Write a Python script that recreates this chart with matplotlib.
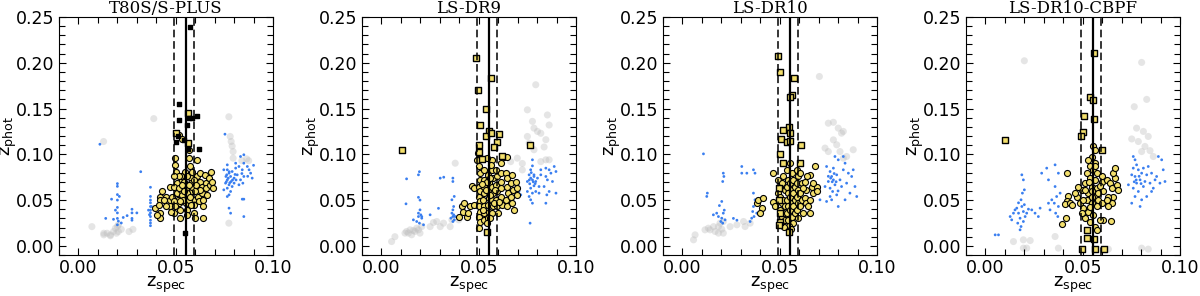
import matplotlib
matplotlib.use("Agg")
import matplotlib.pyplot as plt
from matplotlib.ticker import MultipleLocator

# --- data: (z_spec, z_phot) pairs ---
titles = ["T80S/S-PLUS", "LS-DR9", "LS-DR10", "LS-DR10-CBPF"]

z_cluster = 0.0552
z_lo, z_hi = 0.0489, 0.0592

t80_grey = [(0.0069, 0.021), (0.013, 0.012), (0.0147, 0.0138), (0.0164, 0.012), (0.018, 0.0156),
            (0.019, 0.0193), (0.020, 0.0211), (0.0205, 0.023), (0.0195, 0.0138), (0.0164, 0.011),
            (0.0205, 0.0156), (0.026, 0.0156), (0.013, 0.0138), (0.0387, 0.139), (0.0129, 0.114),
            (0.0773, 0.141), (0.078, 0.1195), (0.0785, 0.114), (0.079, 0.109), (0.0795, 0.103),
            (0.0865, 0.095), (0.0875, 0.093), (0.0773, 0.0248), (0.0795, 0.0958), (0.084, 0.093),
            (0.022, 0.018), (0.028, 0.018)]
t80_blue = [(0.011, 0.111), (0.020, 0.068), (0.020, 0.065), (0.020, 0.056), (0.020, 0.050), (0.020, 0.042),
            (0.020, 0.036), (0.020, 0.030), (0.020, 0.023), (0.017, 0.051), (0.014, 0.030), (0.021, 0.054),
            (0.023, 0.031), (0.019, 0.039), (0.0205, 0.027), (0.0275, 0.040), (0.0275, 0.036), (0.0275, 0.030),
            (0.0275, 0.028), (0.030, 0.036), (0.032, 0.081), (0.037, 0.064), (0.037, 0.054), (0.037, 0.050),
            (0.037, 0.047), (0.037, 0.043), (0.037, 0.039), (0.037, 0.036), (0.037, 0.032), (0.037, 0.028),
            (0.037, 0.025), (0.037, 0.022), (0.036, 0.039), (0.0375, 0.043), (0.0365, 0.034), (0.025, 0.033),
            (0.018, 0.029), (0.022, 0.025),
            (0.0753, 0.122), (0.0765, 0.0885), (0.0765, 0.0831), (0.0774, 0.0794), (0.0782, 0.0758),
            (0.0765, 0.0721), (0.0756, 0.0685), (0.0774, 0.0667), (0.0785, 0.0703), (0.080, 0.074),
            (0.0762, 0.0776), (0.079, 0.0812), (0.0747, 0.0612), (0.0765, 0.063), (0.0782, 0.0594),
            (0.0774, 0.0557), (0.079, 0.0648), (0.0808, 0.0903), (0.0825, 0.0867), (0.0842, 0.0831),
            (0.085, 0.0995), (0.0833, 0.0976), (0.085, 0.0903), (0.0868, 0.0867), (0.0877, 0.0831),
            (0.0893, 0.074), (0.085, 0.0758), (0.0833, 0.0721), (0.0816, 0.0776), (0.080, 0.0685),
            (0.0842, 0.051), (0.085, 0.051), (0.0774, 0.0412), (0.0782, 0.0357), (0.085, 0.032),
            (0.0765, 0.0539), (0.0808, 0.0849), (0.0825, 0.0667), (0.0845, 0.0685), (0.0885, 0.0794),
            (0.0747, 0.0831), (0.0770, 0.0740), (0.0758, 0.0758), (0.0778, 0.0690), (0.0792, 0.0720),
            (0.0760, 0.0700), (0.0775, 0.0810), (0.0805, 0.0780), (0.0810, 0.0720), (0.0840, 0.0790),
            (0.0870, 0.0760), (0.0900, 0.0880)]
t80_members = [(0.0421, 0.0539), (0.0421, 0.0503), (0.0421, 0.0357), (0.0421, 0.030), (0.0395, 0.0412),
               (0.0412, 0.0448), (0.0452, 0.0532), (0.0469, 0.0648), (0.0473, 0.0503), (0.0473, 0.043),
               (0.0498, 0.0958), (0.0498, 0.0885), (0.0503, 0.0812), (0.0507, 0.0685), (0.0507, 0.0576),
               (0.051, 0.0503), (0.0515, 0.0466), (0.049, 0.0357), (0.0524, 0.0393), (0.0524, 0.030),
               (0.0527, 0.0612), (0.0533, 0.0721), (0.0541, 0.0776), (0.0545, 0.0648), (0.055, 0.0539),
               (0.0555, 0.0466), (0.0558, 0.0393), (0.0558, 0.0339), (0.0567, 0.105), (0.0567, 0.0958),
               (0.0572, 0.0867), (0.0576, 0.074), (0.0579, 0.0685), (0.0584, 0.0594), (0.0589, 0.0503),
               (0.0593, 0.0448), (0.0593, 0.0357), (0.0601, 0.030), (0.0607, 0.094), (0.061, 0.0758),
               (0.061, 0.063), (0.0613, 0.0539), (0.0619, 0.0485), (0.0627, 0.0794), (0.0627, 0.0703),
               (0.0636, 0.0648), (0.0636, 0.0576), (0.0641, 0.043), (0.0641, 0.030), (0.0648, 0.0776),
               (0.0653, 0.0685), (0.0658, 0.063), (0.0662, 0.0557), (0.067, 0.074), (0.0675, 0.0667),
               (0.0682, 0.0812), (0.0687, 0.0703), (0.0692, 0.063), (0.0481, 0.0539), (0.049, 0.0648),
               (0.0493, 0.0485), (0.0515, 0.063), (0.0533, 0.0557), (0.0538, 0.0503), (0.0545, 0.0703),
               (0.0553, 0.0612), (0.0567, 0.0503), (0.0576, 0.0448), (0.0584, 0.0648), (0.0596, 0.0721),
               (0.0624, 0.0612), (0.0641, 0.0503), (0.055, 0.0812), (0.0527, 0.0758), (0.0558, 0.0758),
               (0.0581, 0.0812), (0.0515, 0.0758), (0.049, 0.0758), (0.0452, 0.043), (0.0478, 0.0375),
               (0.0498, 0.043), (0.0524, 0.0485), (0.043, 0.0594), (0.0442, 0.0503), (0.0404, 0.0339),
               (0.0558, 0.0576), (0.0545, 0.0594), (0.0572, 0.0539), (0.0533, 0.0667), (0.0567, 0.0667),
               (0.0598, 0.0594), (0.0605, 0.0667), (0.0515, 0.121), (0.053, 0.117)]
t80_outliers = [(0.0564, 0.145), (0.0503, 0.123), (0.0564, 0.112)]
t80_black = [(0.0515, 0.155), (0.0567, 0.1395), (0.0584, 0.1395), (0.0607, 0.142), (0.0558, 0.132),
             (0.0515, 0.138), (0.051, 0.1195), (0.0502, 0.114), (0.0545, 0.116), (0.0564, 0.1057),
             (0.0619, 0.1057), (0.055, 0.0138), (0.0573, 0.239)]

dr9_grey = [(0.0793, 0.176), (0.075, 0.1486), (0.0853, 0.143), (0.0862, 0.132), (0.0776, 0.136),
            (0.0784, 0.1286), (0.0802, 0.125), (0.0819, 0.123), (0.0845, 0.116), (0.075, 0.1195),
            (0.0759, 0.1122), (0.0836, 0.108), (0.0784, 0.105), (0.0845, 0.094), (0.0862, 0.094),
            (0.0819, 0.092), (0.0698, 0.0958), (0.0664, 0.092), (0.0724, 0.083), (0.0724, 0.090),
            (0.0379, 0.0903), (0.0052, 0.0047), (0.0069, 0.010), (0.0129, 0.0157), (0.0147, 0.0175),
            (0.0164, 0.0168), (0.0181, 0.0193), (0.019, 0.0175), (0.0207, 0.0211), (0.0198, 0.0139),
            (0.0155, 0.0121), (0.0121, 0.0139), (0.0138, 0.0139), (0.0172, 0.0157), (0.025, 0.021),
            (0.0267, 0.0255), (0.0319, 0.0248), (0.0353, 0.021), (0.0284, 0.0266), (0.0397, 0.0284),
            (0.0302, 0.021), (0.0362, 0.0284)]
dr9_blue = [(0.0129, 0.0732), (0.019, 0.0776), (0.0195, 0.081), (0.0126, 0.0459), (0.019, 0.053),
            (0.0198, 0.050), (0.0198, 0.0393), (0.0202, 0.0339), (0.019, 0.032), (0.0207, 0.0302),
            (0.0195, 0.0248), (0.0181, 0.0266), (0.0207, 0.0320), (0.0164, 0.0284), (0.0216, 0.0230),
            (0.019, 0.0357), (0.025, 0.0339), (0.0293, 0.041), (0.0302, 0.074), (0.032, 0.075),
            (0.0367, 0.074), (0.0367, 0.0703), (0.0374, 0.054), (0.0362, 0.0503), (0.0371, 0.043),
            (0.0367, 0.0393), (0.0362, 0.0357), (0.0371, 0.0339), (0.0379, 0.032), (0.0357, 0.0302),
            (0.0374, 0.0284), (0.0367, 0.0266), (0.0367, 0.032),
            (0.0776, 0.094), (0.0776, 0.0874), (0.0767, 0.0831), (0.0759, 0.0776), (0.0784, 0.0758),
            (0.0767, 0.074), (0.0776, 0.0721), (0.0793, 0.0703), (0.075, 0.0703), (0.0762, 0.0678),
            (0.0784, 0.0656), (0.0802, 0.074), (0.0819, 0.0776), (0.081, 0.0648), (0.0767, 0.063),
            (0.075, 0.0594), (0.0776, 0.0576), (0.0793, 0.0594), (0.0759, 0.0539), (0.0767, 0.0503),
            (0.0776, 0.0466), (0.0819, 0.0831), (0.0845, 0.0849), (0.0862, 0.0831), (0.0871, 0.0794),
            (0.0888, 0.0867), (0.0897, 0.0812), (0.0845, 0.0758), (0.0853, 0.0721), (0.0879, 0.0703),
            (0.0836, 0.0648), (0.0862, 0.0594), (0.085, 0.0557), (0.0845, 0.0466), (0.0897, 0.0576),
            (0.0764, 0.0248), (0.0707, 0.0594), (0.0716, 0.0557), (0.081, 0.0576), (0.0784, 0.0776),
            (0.0770, 0.0800), (0.0780, 0.0700), (0.0760, 0.0720), (0.0790, 0.0680)]
dr9_members = [(0.0397, 0.032), (0.0414, 0.043), (0.0422, 0.0466), (0.0419, 0.0375), (0.044, 0.032),
               (0.0443, 0.0357), (0.0457, 0.043), (0.0474, 0.0448), (0.0466, 0.0656), (0.0474, 0.063),
               (0.0491, 0.094), (0.05, 0.0867), (0.05, 0.1104), (0.0495, 0.1013), (0.0505, 0.0794),
               (0.0509, 0.0721), (0.05, 0.0648), (0.0509, 0.0594), (0.05, 0.0539), (0.0509, 0.0485),
               (0.05, 0.043), (0.0509, 0.0375), (0.05, 0.032), (0.0509, 0.0266), (0.0526, 0.0831),
               (0.0526, 0.0721), (0.0529, 0.0648), (0.0526, 0.0576), (0.0522, 0.0503), (0.0529, 0.043),
               (0.0526, 0.0357), (0.0529, 0.0284), (0.0547, 0.0776), (0.0552, 0.0685), (0.0547, 0.0594),
               (0.0552, 0.0521), (0.0547, 0.0448), (0.0552, 0.0375), (0.0547, 0.0302), (0.0569, 0.094),
               (0.0569, 0.0831), (0.0574, 0.074), (0.0569, 0.0648), (0.0574, 0.0576), (0.0569, 0.0503),
               (0.0574, 0.043), (0.0569, 0.0357), (0.0591, 0.0831), (0.0595, 0.0758), (0.0591, 0.0667),
               (0.0595, 0.0594), (0.0591, 0.0503), (0.0595, 0.043), (0.0598, 0.0357), (0.0612, 0.0903),
               (0.0616, 0.0794), (0.0612, 0.0703), (0.0616, 0.063), (0.0612, 0.0539), (0.0621, 0.0448),
               (0.0638, 0.0801), (0.0647, 0.074), (0.0643, 0.0648), (0.065, 0.0576), (0.0638, 0.0503),
               (0.0647, 0.043), (0.0672, 0.0776), (0.0667, 0.0685), (0.0678, 0.0612), (0.0664, 0.0539),
               (0.0672, 0.0466), (0.0681, 0.0393), (0.069, 0.0703), (0.0695, 0.063), (0.0698, 0.0557),
               (0.0629, 0.0976), (0.0647, 0.0976), (0.0535, 0.0612), (0.0558, 0.0558), (0.0540, 0.0700),
               (0.0580, 0.0470), (0.0515, 0.0680), (0.0560, 0.0740), (0.0585, 0.0610), (0.0605, 0.0480),
               (0.0520, 0.0390), (0.0560, 0.0300), (0.0540, 0.0250), (0.0500, 0.0200), (0.0565, 0.0880),
               (0.0545, 0.0960)]
dr9_outliers = [(0.0487, 0.2049), (0.0561, 0.183), (0.0497, 0.170), (0.0535, 0.149), (0.0509, 0.132),
                (0.0555, 0.125), (0.0535, 0.12), (0.0606, 0.1217), (0.0592, 0.113), (0.050, 0.110),
                (0.0105, 0.105), (0.0764, 0.1105), (0.0617, 0.0985), (0.0503, 0.102), (0.0515, 0.095),
                (0.0544, 0.0155), (0.0565, 0.1235), (0.0580, 0.1085)]

dr10_grey = [(0.0704, 0.185), (0.075, 0.134), (0.0776, 0.135), (0.0801, 0.1286), (0.0827, 0.1250),
             (0.0818, 0.1231), (0.0776, 0.1158), (0.0793, 0.1104), (0.0733, 0.1068), (0.075, 0.103),
             (0.0827, 0.0958), (0.0878, 0.105), (0.0844, 0.0976), (0.0810, 0.1030), (0.0057, 0.0066),
             (0.0065, 0.012), (0.0116, 0.0175), (0.0142, 0.0175), (0.016, 0.021), (0.0185, 0.021),
             (0.0193, 0.0248), (0.0202, 0.0182), (0.0210, 0.0139), (0.0168, 0.0157), (0.0133, 0.0193),
             (0.0185, 0.0139), (0.0210, 0.0266), (0.0245, 0.021), (0.028, 0.023), (0.0314, 0.0266),
             (0.0348, 0.0248), (0.0322, 0.0211)]
dr10_blue = [(0.0108, 0.1005), (0.021, 0.0794), (0.0213, 0.0758), (0.0207, 0.0703), (0.0128, 0.0576),
             (0.0125, 0.054), (0.0202, 0.0485), (0.021, 0.0357), (0.0202, 0.0302), (0.0197, 0.0266),
             (0.0207, 0.0248), (0.0185, 0.0320), (0.0219, 0.0284), (0.0159, 0.0339), (0.0176, 0.0357),
             (0.0262, 0.030), (0.028, 0.028), (0.0305, 0.0867), (0.0305, 0.0794), (0.0331, 0.0794),
             (0.0365, 0.0831), (0.0373, 0.0794), (0.0365, 0.0576), (0.0373, 0.0503), (0.0365, 0.043),
             (0.0361, 0.0375), (0.0368, 0.032), (0.0356, 0.0302), (0.0348, 0.0266), (0.0382, 0.0357),
             (0.0378, 0.0460), (0.0215, 0.0390), (0.0190, 0.0440),
             (0.0741, 0.0867), (0.0759, 0.0812), (0.0767, 0.0758), (0.0776, 0.0721), (0.075, 0.0703),
             (0.0784, 0.0667), (0.0759, 0.063), (0.0772, 0.0594), (0.0793, 0.0557), (0.0767, 0.0503),
             (0.0741, 0.0485), (0.0801, 0.043), (0.0707, 0.0503), (0.0776, 0.0849), (0.0801, 0.094),
             (0.0827, 0.0976), (0.0836, 0.0903), (0.0853, 0.0794), (0.087, 0.0758), (0.0878, 0.0831),
             (0.0887, 0.0648), (0.0844, 0.0685), (0.0861, 0.0576), (0.0896, 0.0539), (0.081, 0.0721),
             (0.0818, 0.0648), (0.0827, 0.0831), (0.0793, 0.0776), (0.0759, 0.0539), (0.0733, 0.0648),
             (0.0784, 0.0976), (0.0836, 0.0503), (0.0770, 0.0700), (0.0762, 0.0740), (0.0790, 0.0700),
             (0.0780, 0.0790), (0.0750, 0.0760), (0.0800, 0.0600)]
dr10_members = [(0.0382, 0.0466), (0.039, 0.0503), (0.0408, 0.0412), (0.0399, 0.0357), (0.0416, 0.0521),
                (0.0464, 0.0794), (0.0467, 0.0474), (0.0476, 0.043), (0.0493, 0.0576), (0.0502, 0.0648),
                (0.0493, 0.0721), (0.051, 0.0685), (0.0502, 0.0539), (0.051, 0.0466), (0.0502, 0.0393),
                (0.051, 0.032), (0.0519, 0.0758), (0.0527, 0.0612), (0.0519, 0.0503), (0.0527, 0.043),
                (0.0519, 0.0357), (0.0527, 0.0284), (0.0536, 0.0831), (0.0545, 0.0721), (0.0536, 0.0648),
                (0.0545, 0.0576), (0.0536, 0.0503), (0.0545, 0.043), (0.0536, 0.0357), (0.0545, 0.0284),
                (0.0553, 0.0903), (0.0562, 0.0794), (0.0553, 0.0685), (0.0562, 0.0612), (0.0553, 0.0539),
                (0.0562, 0.0466), (0.0553, 0.0393), (0.0562, 0.032), (0.057, 0.0721), (0.0579, 0.0648),
                (0.057, 0.0576), (0.0579, 0.0503), (0.057, 0.043), (0.0579, 0.0357), (0.057, 0.0248),
                (0.0587, 0.0831), (0.0596, 0.0758), (0.0587, 0.0685), (0.0596, 0.0612), (0.0587, 0.0539),
                (0.0596, 0.0466), (0.0587, 0.0393), (0.0596, 0.0302), (0.0604, 0.0794), (0.0613, 0.0685),
                (0.0604, 0.0576), (0.0613, 0.0503), (0.0604, 0.043), (0.0622, 0.0357), (0.063, 0.0703),
                (0.0635, 0.0612), (0.063, 0.0521), (0.0635, 0.0466), (0.0656, 0.0776), (0.0682, 0.0867),
                (0.0664, 0.0648), (0.0673, 0.0576), (0.0656, 0.0503), (0.0647, 0.043), (0.0656, 0.0357),
                (0.069, 0.0648), (0.0693, 0.0594), (0.0673, 0.0685), (0.0639, 0.0758), (0.0622, 0.063),
                (0.0548, 0.0220), (0.0520, 0.0210), (0.0560, 0.0180)]
dr10_outliers = [(0.049, 0.2077), (0.0502, 0.1894), (0.0574, 0.1832), (0.0565, 0.165), (0.0553, 0.1625),
                 (0.055, 0.130), (0.0515, 0.1268), (0.0507, 0.1166), (0.0536, 0.114), (0.0553, 0.1150),
                 (0.061, 0.1104), (0.0502, 0.1005), (0.0515, 0.0903), (0.0604, 0.0903), (0.0548, 0.0146),
                 (0.0497, 0.063), (0.0497, 0.050), (0.0502, 0.0357), (0.0502, 0.0266), (0.0497, 0.023),
                 (0.0553, 0.123)]

cbpf_grey = [(0.02, 0.2022), (0.0803, 0.2004), (0.0829, 0.160), (0.0765, 0.152), (0.0777, 0.1286),
             (0.0812, 0.1250), (0.0837, 0.1195), (0.0752, 0.1168), (0.0786, 0.1140), (0.082, 0.1086),
             (0.0846, 0.1040), (0.0803, 0.1030), (0.0863, 0.0976), (0.0144, 0.0047), (0.0195, 0.0066),
             (0.023, 0.0058), (0.0195, -0.0025), (0.0212, -0.0025), (0.0375, -0.0025), (0.0358, 0.0102),
             (0.0632, -0.0036), (0.0803, -0.0025), (0.0837, -0.0036)]
cbpf_blue = [(0.005, 0.012), (0.0067, 0.012), (0.0127, 0.032), (0.0135, 0.0284), (0.0144, 0.0357),
             (0.0152, 0.0393), (0.0161, 0.0412), (0.017, 0.0357), (0.0178, 0.0302), (0.0187, 0.043),
             (0.0195, 0.0375), (0.0183, 0.0503), (0.019, 0.0576), (0.0187, 0.0776), (0.0195, 0.0721),
             (0.02, 0.0612), (0.0204, 0.032), (0.0195, 0.0266), (0.0183, 0.0211), (0.0178, 0.0175),
             (0.0166, 0.0248), (0.0212, 0.0357), (0.0221, 0.0401), (0.0238, 0.0393), (0.0255, 0.0357),
             (0.0272, 0.032), (0.0281, 0.0412), (0.0315, 0.0849), (0.0289, 0.0794), (0.0324, 0.0721),
             (0.0358, 0.0885), (0.0375, 0.0794), (0.0358, 0.0648), (0.0366, 0.0539), (0.0354, 0.0466),
             (0.0375, 0.043), (0.0361, 0.0357), (0.0341, 0.0503), (0.0372, 0.032), (0.0384, 0.0576),
             (0.0324, 0.0466), (0.0332, 0.0393), (0.0200, 0.0450), (0.0170, 0.0470),
             (0.0769, 0.094), (0.0777, 0.0885), (0.076, 0.0849), (0.0786, 0.0831), (0.0803, 0.0794),
             (0.0752, 0.0776), (0.0769, 0.0758), (0.0795, 0.0721), (0.0777, 0.0685), (0.0812, 0.0648),
             (0.076, 0.063), (0.0786, 0.0594), (0.0769, 0.0539), (0.0803, 0.0503), (0.0752, 0.0466),
             (0.082, 0.0703), (0.0837, 0.0867), (0.0854, 0.0794), (0.0872, 0.0721), (0.0889, 0.0976),
             (0.0906, 0.094), (0.0846, 0.0685), (0.0863, 0.063), (0.088, 0.0758), (0.0897, 0.0685),
             (0.0923, 0.0703), (0.0854, 0.0594), (0.0829, 0.0539), (0.0795, 0.043), (0.0812, 0.0849),
             (0.0829, 0.0776), (0.0735, 0.0667), (0.076, 0.0976), (0.0914, 0.0831), (0.0775, 0.0720),
             (0.0790, 0.0760), (0.0765, 0.0700), (0.0800, 0.0680)]
cbpf_members = [(0.0418, 0.0794), (0.0426, 0.054), (0.0418, 0.0485), (0.0409, 0.0459), (0.0435, 0.0466),
                (0.0443, 0.0448), (0.0414, 0.030), (0.0392, 0.024), (0.0555, 0.1086), (0.0563, 0.1049),
                (0.0546, 0.0976), (0.0529, 0.094), (0.0563, 0.0903), (0.0538, 0.0867), (0.0555, 0.0831),
                (0.052, 0.0794), (0.0572, 0.0794), (0.0538, 0.074), (0.0563, 0.0721), (0.0512, 0.0685),
                (0.0546, 0.0648), (0.0572, 0.063), (0.0495, 0.0612), (0.0529, 0.0576), (0.0563, 0.0539),
                (0.052, 0.0503), (0.0546, 0.0466), (0.0572, 0.043), (0.0503, 0.0412), (0.0529, 0.0375),
                (0.0555, 0.0339), (0.0512, 0.0302), (0.0538, 0.0266), (0.0563, 0.0211), (0.0495, 0.0357),
                (0.0486, 0.0466), (0.0469, 0.0539), (0.0478, 0.0648), (0.0461, 0.0576), (0.058, 0.0503),
                (0.0598, 0.0466), (0.0606, 0.0594), (0.0598, 0.0703), (0.0623, 0.0721), (0.064, 0.0685),
                (0.0649, 0.063), (0.0658, 0.0539), (0.0649, 0.0466), (0.0632, 0.043), (0.0666, 0.074),
                (0.0675, 0.0667), (0.0683, 0.0612), (0.0658, 0.0794), (0.0666, 0.0849), (0.0632, 0.0539),
                (0.0606, 0.0284), (0.0572, 0.0175), (0.0589, 0.0284), (0.0646, 0.0273), (0.0623, 0.0503),
                (0.0598, 0.0758), (0.0563, 0.0867), (0.0546, 0.0539), (0.0512, 0.0612), (0.0530, 0.0700),
                (0.0550, 0.0600), (0.0580, 0.0580), (0.0540, 0.0420), (0.0500, 0.0500), (0.0590, 0.0650)]
cbpf_outliers = [(0.056, 0.2106), (0.0538, 0.163), (0.0551, 0.1596), (0.0507, 0.142), (0.0556, 0.1384),
                 (0.05, 0.1239), (0.0491, 0.1195), (0.0601, 0.105), (0.0524, 0.0175), (0.052, 0.0084),
                 (0.056, 0.0073), (0.0495, -0.0036), (0.0563, -0.0036), (0.0611, -0.0036), (0.0101, 0.1158)]

grey_sets = [t80_grey, dr9_grey, dr10_grey, cbpf_grey]
blue_sets = [t80_blue, dr9_blue, dr10_blue, cbpf_blue]
member_sets = [t80_members, dr9_members, dr10_members, cbpf_members]
outlier_sets = [t80_outliers, dr9_outliers, dr10_outliers, cbpf_outliers]
black_sets = [t80_black, [], [], []]

YELLOW = "#f3df6c"
BLUE = "#3a7ff0"
GREY = "#bdbdbd"

plt.rcParams["font.family"] = "DejaVu Sans"
plt.rcParams["mathtext.default"] = "regular"


def xy(pts):
    return [p[0] for p in pts], [p[1] for p in pts]


fig = plt.figure(figsize=(12, 2.96), dpi=100)
lefts = [0.0492, 0.3017, 0.5525, 0.805]

for i in range(4):
    ax = fig.add_axes([lefts[i], 0.1385, 0.1783, 0.804])

    x, y = xy(grey_sets[i])
    ax.scatter(x, y, s=26, color=GREY, alpha=0.38, edgecolors="none", zorder=1)
    x, y = xy(blue_sets[i])
    ax.scatter(x, y, s=4, color=BLUE, edgecolors="none", zorder=2)
    x, y = xy(member_sets[i])
    ax.scatter(x, y, s=19, facecolor=YELLOW, edgecolors="black", linewidths=0.8, zorder=3)
    if outlier_sets[i]:
        x, y = xy(outlier_sets[i])
        ax.scatter(x, y, s=13, marker="s", facecolor=YELLOW, edgecolors="black", linewidths=1.0, zorder=4)
    if black_sets[i]:
        x, y = xy(black_sets[i])
        ax.scatter(x, y, s=11, marker="s", color="black", zorder=4)

    ax.axvline(z_cluster, color="black", lw=1.6, zorder=5)
    ax.axvline(z_lo, color="black", lw=1.1, ls=(0, (5, 2.5)), zorder=5)
    ax.axvline(z_hi, color="black", lw=1.1, ls=(0, (5, 2.5)), zorder=5)

    ax.set_xlim(-0.01, 0.10)
    ax.set_ylim(-0.01, 0.25)
    ax.xaxis.set_major_locator(MultipleLocator(0.05))
    ax.xaxis.set_minor_locator(MultipleLocator(0.01))
    ax.yaxis.set_major_locator(MultipleLocator(0.05))
    ax.yaxis.set_minor_locator(MultipleLocator(0.01))
    ax.xaxis.set_major_formatter(lambda v, pos: f"{v:.2f}")
    ax.yaxis.set_major_formatter(lambda v, pos: f"{v:.2f}")
    ax.tick_params(which="both", direction="in", top=True, right=True, width=0.8, labelsize=12.5)
    ax.tick_params(which="major", length=5, pad=3)
    ax.tick_params(which="minor", length=4)
    for sp in ax.spines.values():
        sp.set_linewidth(0.8)

    ax.set_title(titles[i], fontsize=12, family="DejaVu Serif", pad=2)
    ax.set_xlabel("z$_{spec}$", fontsize=13)
    ax.set_ylabel("z$_{phot}$", fontsize=13)
    ax.xaxis.set_label_coords(0.5, -0.085)
    ax.yaxis.set_label_coords(-0.185, 0.5)

fig.savefig("out.png", dpi=100)
